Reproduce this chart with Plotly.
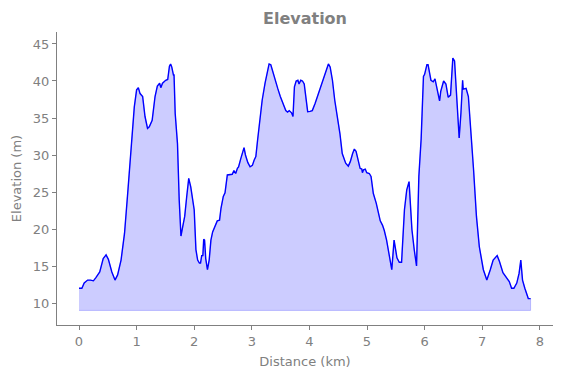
import plotly.graph_objects as go

distance_km = [
    0.00, 0.05, 0.09, 0.15, 0.20, 0.25, 0.29, 0.36, 0.42, 0.47, 0.51, 0.57, 0.625, 0.67,
    0.73, 0.79, 0.845, 0.90, 0.96, 1.00, 1.03, 1.06, 1.105, 1.146, 1.19, 1.22, 1.27, 1.32,
    1.36, 1.40, 1.42, 1.45, 1.505, 1.54, 1.57, 1.59, 1.61, 1.64, 1.65, 1.67, 1.70, 1.71,
    1.74, 1.77, 1.80, 1.835, 1.87, 1.905, 1.94, 1.97, 2.00, 2.03, 2.06, 2.09, 2.11, 2.13,
    2.15, 2.165, 2.18, 2.20, 2.23, 2.26, 2.29, 2.32, 2.36, 2.40, 2.44, 2.465, 2.505, 2.535,
    2.575, 2.62, 2.66, 2.69, 2.72, 2.75, 2.77, 2.81, 2.84, 2.865, 2.89, 2.93, 2.97, 3.01,
    3.04, 3.07, 3.10, 3.14, 3.18, 3.23, 3.27, 3.30, 3.33, 3.36, 3.40, 3.45, 3.495, 3.55,
    3.59, 3.62, 3.65, 3.69, 3.715, 3.74, 3.77, 3.80, 3.82, 3.85, 3.88, 3.91, 3.94, 3.97,
    4.01, 4.05, 4.10, 4.155, 4.21, 4.25, 4.30, 4.33, 4.36, 4.40, 4.44, 4.485, 4.53, 4.57,
    4.60, 4.63, 4.675, 4.71, 4.75, 4.78, 4.81, 4.85, 4.88, 4.91, 4.92, 4.94, 4.97, 4.995,
    5.04, 5.07, 5.11, 5.16, 5.20, 5.23, 5.27, 5.30, 5.34, 5.38, 5.43, 5.47, 5.50, 5.52,
    5.56, 5.60, 5.65, 5.69, 5.73, 5.78, 5.82, 5.86, 5.90, 5.93, 5.94, 5.98, 6.00, 6.04,
    6.06, 6.11, 6.15, 6.18, 6.20, 6.26, 6.28, 6.33, 6.37, 6.41, 6.45, 6.49, 6.52, 6.57,
    6.60, 6.63, 6.66, 6.67, 6.72, 6.76, 6.80, 6.85, 6.90, 6.95, 7.02, 7.08, 7.14, 7.19,
    7.26, 7.30, 7.36, 7.41, 7.47, 7.51, 7.55, 7.60, 7.64, 7.67, 7.70, 7.74, 7.77, 7.80, 7.84,
]

elevation_m = [
    12.0, 12.0, 12.7, 13.1, 13.1, 13.0, 13.4, 14.2, 16.0, 16.5, 15.9, 14.2, 13.1, 13.8,
    15.8, 19.4, 24.8, 30.7, 36.5, 38.8, 39.1, 38.3, 37.9, 35.2, 33.6, 33.8, 34.7, 37.9,
    39.3, 39.7, 39.1, 39.7, 40.1, 40.2, 42.0, 42.3, 41.9, 40.8, 40.8, 35.6, 32.0, 31.5,
    23.9, 19.05, 20.3, 21.7, 24.4, 26.85, 25.7, 24.4, 22.6, 17.2, 15.8, 15.4, 15.4, 16.4,
    16.4, 18.6, 18.5, 16.0, 14.5, 15.8, 18.5, 19.6, 20.5, 21.1, 21.2, 22.8, 24.4, 24.9,
    27.3, 27.4, 27.4, 27.9, 27.5, 28.2, 28.4, 29.55, 30.5, 31.0, 30.0, 29.0, 28.4, 28.6,
    29.3, 29.8, 32.0, 35.2, 37.4, 39.7, 41.5, 42.3, 42.2, 41.3, 40.1, 39.0, 37.9, 36.8,
    36.0, 35.8, 36.0, 35.7, 35.2, 39.2, 40.0, 40.1, 39.6, 40.1, 40.0, 39.6, 37.9, 35.85,
    35.9, 36.0, 37.0, 38.3, 39.7, 40.6, 41.9, 42.3, 41.9, 40.1, 37.4, 35.2, 32.9, 30.2,
    29.5, 28.9, 28.5, 29.1, 30.2, 30.8, 30.5, 29.1, 28.2, 28.1, 27.6, 28.0, 28.1, 27.6,
    27.5, 27.1, 24.8, 23.5, 22.1, 21.1, 20.5, 19.8, 18.5, 16.5, 14.5, 18.5, 16.8, 16.1,
    15.5, 15.5, 22.6, 25.3, 26.4, 19.9, 17.2, 15.0, 27.1, 31.8, 32.2, 40.6, 40.9, 42.2,
    42.2, 40.1, 39.9, 40.3, 39.6, 37.3, 38.6, 40.0, 39.6, 37.8, 38.1, 43.1, 42.7, 37.0,
    32.3, 35.6, 40.1, 38.9, 39.0, 37.9, 33.8, 28.0, 21.7, 17.6, 14.5, 13.1, 14.5, 15.8,
    16.4, 15.6, 14.1, 13.5, 12.9, 12.0, 12.0, 12.7, 14.0, 15.8, 13.1, 12.0, 11.3, 10.6, 10.6,
]

fill_base_m = 9.0
x_ticks = [0, 1, 2, 3, 4, 5, 6, 7, 8]
y_ticks = [10, 15, 20, 25, 30, 35, 40, 45]

GRAY = "#808080"
FONT = "DejaVu Sans"

# The page body has an 8px default margin, so the figure is 8px smaller
W, H = 554, 370

fig = go.Figure()
fig.add_trace(go.Scatter(
    x=distance_km + distance_km[::-1],
    y=elevation_m + [fill_base_m] * len(distance_km),
    fill="toself",
    fillcolor="rgba(0,0,255,0.2)",
    line=dict(color="rgba(0,0,255,0.2)", width=1),
    mode="lines",
    hoverinfo="skip",
    showlegend=False,
))
fig.add_trace(go.Scatter(
    x=distance_km,
    y=elevation_m,
    mode="lines",
    line=dict(color="#0000ff", width=1.4),
    showlegend=False,
))

axis_common = dict(
    showgrid=False,
    zeroline=False,
    showline=True,
    linecolor=GRAY,
    linewidth=1,
    ticks="outside",
    ticklen=4,
    tickwidth=1,
    tickcolor=GRAY,
    tickfont=dict(family=FONT, size=13, color=GRAY),
    mirror=False,
    automargin=False,
)

fig.update_layout(
    width=W,
    height=H,
    margin=dict(l=49, r=9, t=24, b=53),
    paper_bgcolor="white",
    plot_bgcolor="white",
    title=dict(
        text="<b>Elevation</b>",
        font=dict(family=FONT, size=16, color=GRAY),
        x=297 / W,
        xanchor="center",
        xref="container",
        yref="container",
        y=1 - 10 / H,
        yanchor="middle",
        automargin=False,
    ),
    xaxis=dict(
        **axis_common,
        range=[-0.382, 8.229],
        tickvals=x_ticks,
        title=dict(text="Distance (km)", font=dict(family=FONT, size=13, color=GRAY), standoff=9),
    ),
    yaxis=dict(
        **axis_common,
        range=[7.03, 46.62],
        tickvals=y_ticks,
        title=dict(text="Elevation (m)", font=dict(family=FONT, size=13, color=GRAY), standoff=8),
    ),
)

fig.write_html("out.html")
